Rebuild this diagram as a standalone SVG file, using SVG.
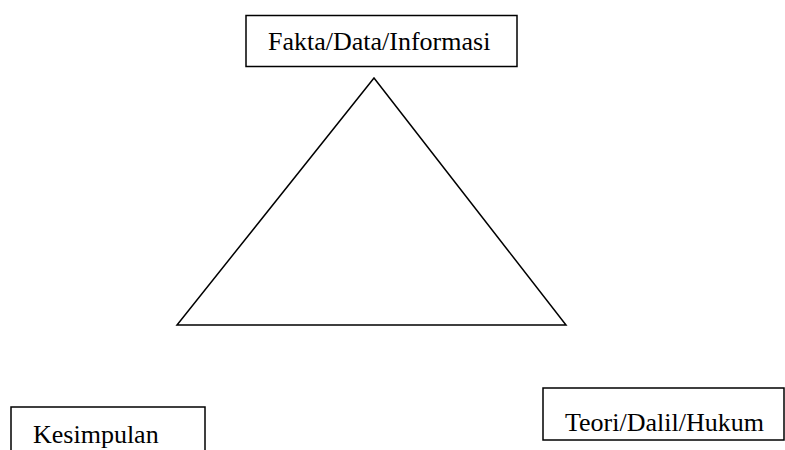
<svg xmlns="http://www.w3.org/2000/svg" width="785" height="450" viewBox="0 0 785 450">
<style>
.box{fill:#fff;stroke:#000;stroke-width:1.5}
.lbl{font-family:"Liberation Serif","Times New Roman",serif;font-size:26px;fill:#000}
.tri{fill:none;stroke:#000;stroke-width:1.5;stroke-linejoin:miter}
</style>
<rect width="785" height="450" fill="#fff"/>
<g id="connectors">
<polygon class="tri" points="374,78 566,325 177,325"/>
</g>
<g id="fakta">
<rect class="box" x="246" y="15.5" width="271" height="51"/>
<text class="lbl" x="268" y="50">Fakta/Data/Informasi</text>
</g>
<g id="teori">
<rect class="box" x="543" y="388" width="241" height="52"/>
<text class="lbl" x="565" y="431">Teori/Dalil/Hukum</text>
</g>
<g id="kesimpulan">
<rect class="box" x="11" y="407" width="194" height="60"/>
<text class="lbl" x="33" y="443">Kesimpulan</text>
</g>
</svg>
